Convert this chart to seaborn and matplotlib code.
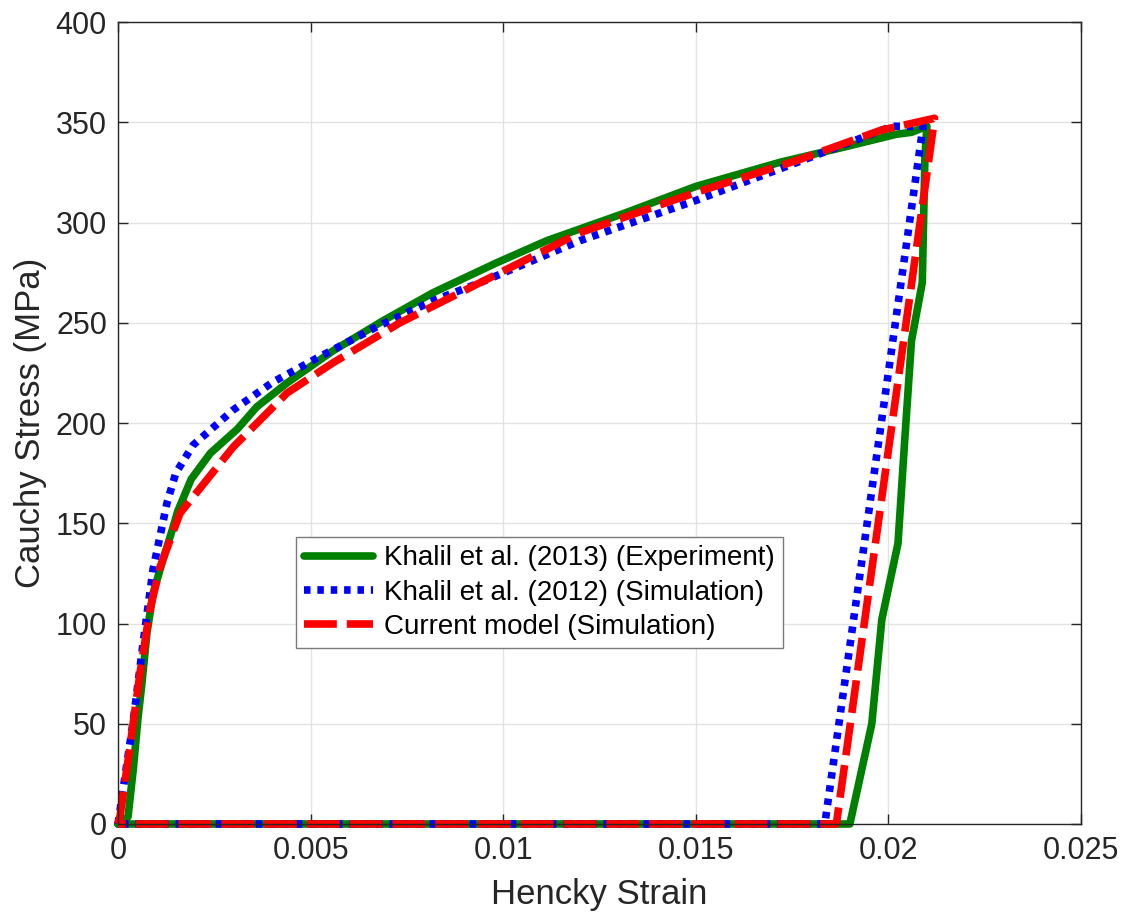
import numpy as np
import pandas as pd
import matplotlib
matplotlib.use("Agg")
import matplotlib.pyplot as plt
import seaborn as sns

# Khalil et al. (2013) experiment: loading, unloading, back along zero
exp_strain = [0, 0.00026, 0.0004, 0.00052, 0.00062, 0.00075, 0.00091, 0.00117, 0.00143,
              0.00155, 0.0019, 0.0024, 0.0031, 0.0036, 0.00439, 0.00558, 0.00688, 0.00818,
              0.00984, 0.01114, 0.0132, 0.015, 0.01718, 0.01893, 0.0202, 0.0206, 0.021,
              0.02095, 0.02088, 0.0206, 0.02043, 0.02025, 0.01983, 0.01957, 0.019, 0]
exp_stress = [0, 3.5, 28, 53, 70, 95, 115, 132, 148,
              156, 172, 185, 197, 208, 220, 236, 251, 265,
              280, 291, 305, 318, 330, 338, 344, 345, 348,
              333, 270, 241, 193, 140, 102, 50, 0, 0]

# Khalil et al. (2012) simulation
k12_strain = [0, 0.00013, 0.0004, 0.00065, 0.00091, 0.00127, 0.0015, 0.00195, 0.00299,
              0.00402, 0.00517, 0.00672, 0.00818, 0.0094, 0.012, 0.015, 0.01763, 0.0201,
              0.0209, 0.01835, 0]
k12_stress = [0, 17, 52, 90, 127, 160, 175, 189, 206.5,
              220.4, 232.4, 248, 261, 270, 291, 311, 330, 348,
              348, 0, 0]

# Current model simulation
cur_strain = [0, 0.00005, 0.0003, 0.00057, 0.00083, 0.00109, 0.00161, 0.00299, 0.00439,
              0.00558, 0.00732, 0.0094, 0.012, 0.015, 0.01763, 0.0198, 0.0212,
              0.01865, 0]
cur_stress = [0, 3.5, 37, 75, 107, 128, 155, 188, 215,
              230, 250, 270, 295, 315, 331, 346, 352,
              0, 0]

x_ticks = [0, 0.005, 0.01, 0.015, 0.02, 0.025]
x_tick_labels = ["0", "0.005", "0.01", "0.015", "0.02", "0.025"]
y_ticks = [0, 50, 100, 150, 200, 250, 300, 350, 400]

sns.set_theme(style="whitegrid")
plt.rcParams["font.family"] = ["Liberation Sans", "DejaVu Sans"]
text_color = "#262626"

fig = plt.figure(figsize=(11.26, 9.22), dpi=100)
ax = fig.add_axes([0.1048, 0.1063, 0.8552, 0.8698])

lw = 5.5
sns.lineplot(x=exp_strain, y=exp_stress, sort=False, estimator=None, ax=ax,
             color="#008000", linewidth=lw, solid_joinstyle="round",
             solid_capstyle="round",
             label="Khalil et al. (2013) (Experiment)", clip_on=False)
sns.lineplot(x=k12_strain, y=k12_stress, sort=False, estimator=None, ax=ax,
             color="#0000ff", linewidth=lw, linestyle=(0, (0.85, 0.9)),
             dash_capstyle="butt", label="Khalil et al. (2012) (Simulation)", clip_on=False)
sns.lineplot(x=cur_strain, y=cur_stress, sort=False, estimator=None, ax=ax,
             color="#ff0000", linewidth=lw, linestyle=(0, (4.3, 1.3)),
             dash_capstyle="butt", label="Current model (Simulation)", clip_on=False)

ax.set_xlim(0, 0.025)
ax.set_ylim(0, 400)
ax.set_xticks(x_ticks)
ax.set_xticklabels(x_tick_labels)
ax.set_yticks(y_ticks)
ax.tick_params(axis="both", direction="in", length=7, width=1, colors=text_color,
               labelsize=22, top=True, right=True, bottom=True, left=True,
               labelcolor=text_color)
ax.tick_params(axis="x", pad=9)
ax.tick_params(axis="y", pad=8)
ax.grid(True, color="#e3e3e3", linewidth=1)
for s in ax.spines.values():
    s.set_color(text_color)
    s.set_linewidth(1)
    s.set_visible(True)
ax.set_facecolor("white")
ax.set_xlabel("Hencky Strain", fontsize=25, color=text_color, labelpad=8)
ax.set_ylabel("Cauchy Stress (MPa)", fontsize=25, color=text_color, labelpad=6)

leg = ax.legend(loc="upper left", bbox_to_anchor=(0.185, 0.358), borderaxespad=0,
                fontsize=20, frameon=True, fancybox=False, framealpha=1,
                edgecolor="#7a7a7a", handlelength=2.45, handletextpad=0.4,
                labelspacing=0.3, borderpad=0.3)
leg.get_frame().set_linewidth(1)
for t in leg.get_texts():
    t.set_color("black")

fig.savefig("out.png", dpi=100, facecolor="white")
